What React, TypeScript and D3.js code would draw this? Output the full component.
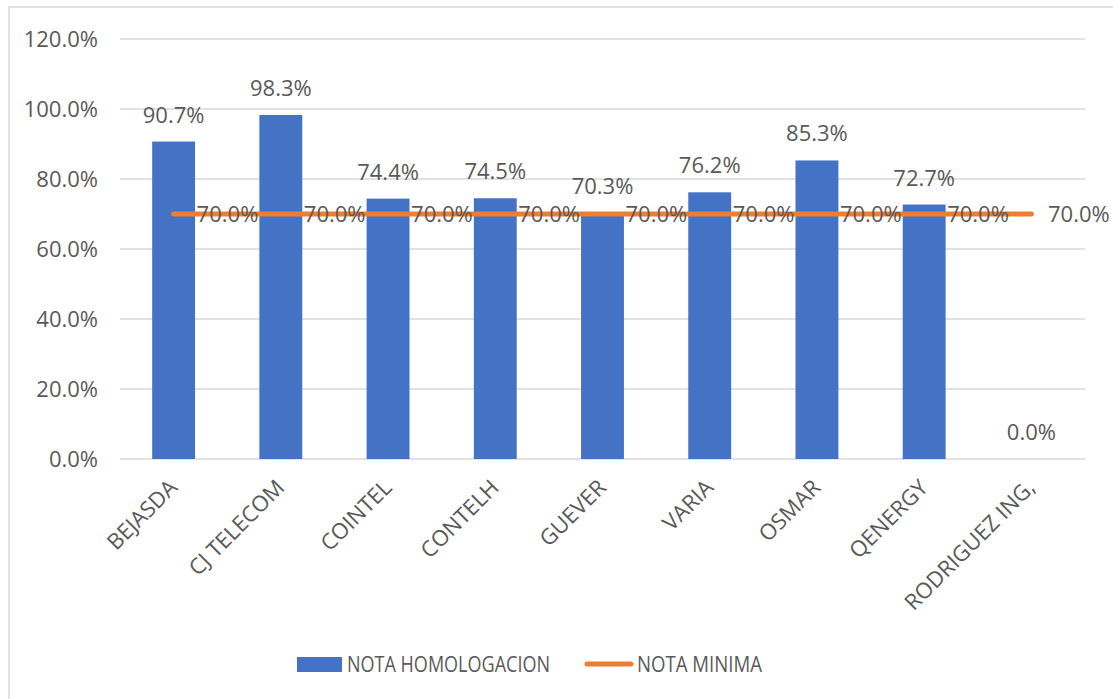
import React from "react";
import * as d3 from "d3";

const WIDTH = 1113;
const HEIGHT = 699;
const MARGIN = { top: 39, right: 28, bottom: 240, left: 120 };

const categories = [
  "BEJASDA",
  "CJ TELECOM",
  "COINTEL",
  "CONTELH",
  "GUEVER",
  "VARIA",
  "OSMAR",
  "QENERGY",
  "RODRIGUEZ ING,",
];
const notaHomologacion = [0.907, 0.983, 0.744, 0.745, 0.703, 0.762, 0.853, 0.727, 0.0];
const notaMinima = [0.7, 0.7, 0.7, 0.7, 0.7, 0.7, 0.7, 0.7, 0.7];
const yTicks = [0, 0.2, 0.4, 0.6, 0.8, 1.0, 1.2];

const FONT = "'Open Sans', sans-serif";
const TEXT = "#595959";
const BLUE = "#4472C4";
const ORANGE = "#ED7D31";
const GRID = "#D9D9D9";
const FS = 22;

const fmt = d3.format(".1%");

const App = () => {
  const boundsWidth = WIDTH - MARGIN.left - MARGIN.right;
  const boundsHeight = HEIGHT - MARGIN.top - MARGIN.bottom;

  const xScale = d3
    .scaleBand()
    .domain(categories)
    .range([0, boundsWidth])
    .paddingInner(0.6)
    .paddingOuter(0.3);

  const yScale = d3.scaleLinear().domain([0, 1.2]).range([boundsHeight, 0]);

  const center = (c: string) => (xScale(c) ?? 0) + xScale.bandwidth() / 2;

  const line = d3
    .line<number>()
    .x((_, i) => center(categories[i]))
    .y((d) => yScale(d));

  // keep the right-hand labels inside the chart box
  const labelMaxX = WIDTH - MARGIN.left - 65;

  return (
    <div style={{ position: "absolute", left: 0, top: 0 }}>
      <svg width={WIDTH} height={HEIGHT} style={{ display: "block", background: "white" }}>
        <rect x={9} y={7} width={WIDTH + 10} height={HEIGHT + 10} fill="white" stroke={GRID} strokeWidth={1.5} />
        <g transform={`translate(${MARGIN.left},${MARGIN.top})`} fontFamily={FONT} fill={TEXT}>
          {/* grid + y labels */}
          {yTicks.map((t) => (
            <g key={t}>
              <line x1={0} x2={boundsWidth} y1={yScale(t)} y2={yScale(t)} stroke={GRID} strokeWidth={1.3} />
              <text x={-22} y={yScale(t)} dy="0.36em" textAnchor="end" fontSize={FS}>
                {fmt(t)}
              </text>
            </g>
          ))}

          {/* bars */}
          {notaHomologacion.map((v, i) => (
            <rect
              key={i}
              x={xScale(categories[i])}
              y={yScale(v)}
              width={xScale.bandwidth()}
              height={boundsHeight - yScale(v)}
              fill={BLUE}
            />
          ))}

          {/* bar labels */}
          {notaHomologacion.map((v, i) => (
            <text key={i} x={center(categories[i])} y={yScale(v) - 19} textAnchor="middle" fontSize={FS}>
              {fmt(v)}
            </text>
          ))}

          {/* minimum line */}
          <path d={line(notaMinima) ?? ""} fill="none" stroke={ORANGE} strokeWidth={5} strokeLinecap="round" />
          {notaMinima.map((v, i) => (
            <text
              key={i}
              x={Math.min(center(categories[i]) + 23, labelMaxX)}
              y={yScale(v)}
              dy="0.36em"
              fontSize={FS}
            >
              {fmt(v)}
            </text>
          ))}

          {/* x labels */}
          {categories.map((c) => (
            <text
              key={c}
              transform={`translate(${center(c) + 5},${boundsHeight + 30}) rotate(-45)`}
              textAnchor="end"
              fontSize={FS}
            >
              {c}
            </text>
          ))}
        </g>

        {/* legend */}
        <g fontFamily={FONT} fill={TEXT} fontSize={FS}>
          <rect x={297} y={657} width={45} height={15} fill={BLUE} />
          <text x={347} y={672} textLength={203} lengthAdjust="spacingAndGlyphs">NOTA HOMOLOGACION</text>
          <line x1={587} x2={631} y1={664} y2={664} stroke={ORANGE} strokeWidth={5} strokeLinecap="round" />
          <text x={637} y={672} textLength={125} lengthAdjust="spacingAndGlyphs">NOTA MINIMA</text>
        </g>
      </svg>
    </div>
  );
};

export default App;
